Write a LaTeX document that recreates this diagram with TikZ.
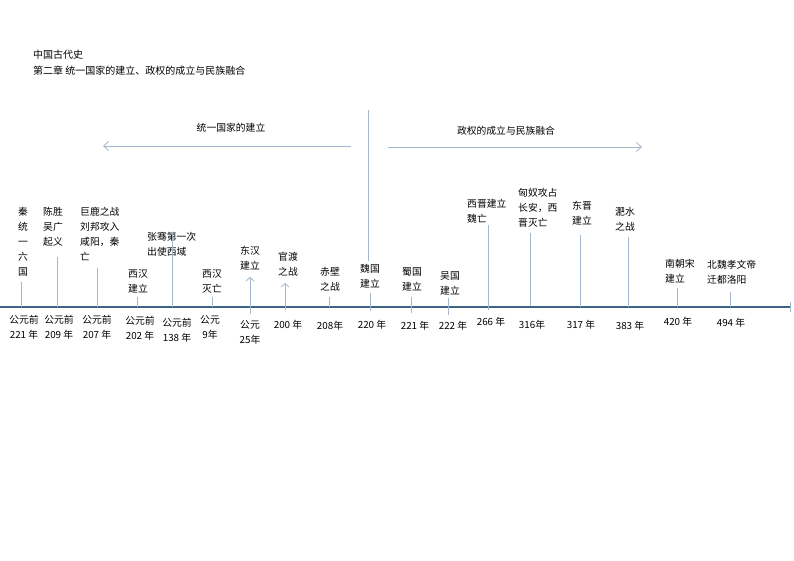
\documentclass[tikz,border=0pt]{standalone}
\usepackage{fontspec}
\setmainfont{Noto Sans CJK SC}
\usetikzlibrary{arrows.meta}
\definecolor{axisblue}{HTML}{3E6388}
\definecolor{thinblue}{HTML}{A3B8CC}
\begin{document}
\begin{tikzpicture}[x=1pt,y=-1pt,
  txt/.style={font=\fontsize{9.8}{15}\selectfont, inner sep=0pt, text=black},
  lab/.style={txt, align=left, anchor=north west},
  vlab/.style={txt, align=center, anchor=north},
  date/.style={txt, align=center, anchor=north},
  ticky/.style={draw=thinblue, line width=0.8pt},
  uparrow/.style={ticky, -{Straight Barb[length=3.5pt,width=8pt]}},
  sidearrow/.style={ticky, -{Straight Barb[length=5pt,width=9pt]}},
  axisline/.style={draw=axisblue, line width=2.4pt}]
\useasboundingbox (0,0) rectangle (794,561);
\fill[white] (0,0) rectangle (794,561);

% title
\node[txt, anchor=north west, align=left, font=\fontsize{10}{15.5}\selectfont] (title) at (33,50)
  {中国古代史\\第二章 统一国家的建立、政权的成立与民族融合};

% section arrows and divider
\coordinate (divT) at (368,110);
\coordinate (divB) at (368,261);
\draw[ticky] (divT) -- (divB);
\coordinate (laS) at (351,146);
\coordinate (laE) at (103,146);
\draw[sidearrow] (laS) -- (laE);
\coordinate (raS) at (388,147);
\coordinate (raE) at (642,147);
\draw[sidearrow] (raS) -- (raE);
\node[txt] (secA) at (231,128) {统一国家的建立};
\node[txt] (secB) at (506,131) {政权的成立与民族融合};

% axis
\coordinate (axL) at (0,307);
\coordinate (axR) at (790,307);
\draw[axisline] (axL) -- (axR);
\coordinate (endT) at (790,302);
\coordinate (endB) at (790,312);
\draw[ticky] (endT) -- (endB);

% 1
\node[vlab] (l1) at (23,207) {秦\\统\\一\\六\\国};
\coordinate (a1) at (21,282); \coordinate (b1) at (21,307);
\draw[ticky] (a1) -- (b1);
\node[date] (d1) at (24,315) {公元前\\221 年};
% 2
\node[lab] (l2) at (43,207) {陈胜\\吴广\\起义};
\coordinate (a2) at (57,257); \coordinate (b2) at (57,307);
\draw[ticky] (a2) -- (b2);
\node[date] (d2) at (59,315) {公元前\\209 年};
% 3
\node[lab] (l3) at (80,207) {巨鹿之战\\刘邦攻入\\咸阳，秦\\亡};
\coordinate (a3) at (97,268); \coordinate (b3) at (97,307);
\draw[ticky] (a3) -- (b3);
\node[date] (d3) at (97,315) {公元前\\207 年};
% 4
\node[lab] (l4) at (128,269) {西汉\\建立};
\coordinate (a4) at (137,297); \coordinate (b4) at (137,307);
\draw[ticky] (a4) -- (b4);
\node[date] (d4) at (140,316) {公元前\\202 年};
% 5
\node[lab] (l5) at (147,232) {张骞第一次\\出使西域};
\coordinate (a5) at (172,232); \coordinate (b5) at (172,307);
\draw[ticky] (a5) -- (b5);
\node[date] (d5) at (177,318) {公元前\\138 年};
% 6
\node[lab] (l6) at (202,269) {西汉\\灭亡};
\coordinate (a6) at (212,297); \coordinate (b6) at (212,307);
\draw[ticky] (a6) -- (b6);
\node[date] (d6) at (210,315) {公元\\9年};
% 7
\node[lab] (l7) at (240,246) {东汉\\建立};
\coordinate (a7) at (250,314); \coordinate (b7) at (250,277);
\draw[uparrow] (a7) -- (b7);
\node[date] (d7) at (250,320) {公元\\25年};
% 8
\node[lab] (l8) at (278,252) {官渡\\之战};
\coordinate (a8) at (285,310); \coordinate (b8) at (285,283);
\draw[uparrow] (a8) -- (b8);
\node[date] (d8) at (288,320) {200 年};
% 9
\node[lab] (l9) at (320,267) {赤壁\\之战};
\coordinate (a9) at (329,297); \coordinate (b9) at (329,307);
\draw[ticky] (a9) -- (b9);
\node[date] (d9) at (330,321) {208年};
% 10
\node[lab] (l10) at (360,264) {魏国\\建立};
\coordinate (a10) at (370,293); \coordinate (b10) at (370,311);
\draw[ticky] (a10) -- (b10);
\node[date] (d10) at (372,320) {220 年};
% 11
\node[lab] (l11) at (402,267) {蜀国\\建立};
\coordinate (a11) at (411,297); \coordinate (b11) at (411,313);
\draw[ticky] (a11) -- (b11);
\node[date] (d11) at (415,321) {221 年};
% 12
\node[lab] (l12) at (440,271) {吴国\\建立};
\coordinate (a12) at (448,298); \coordinate (b12) at (448,315);
\draw[ticky] (a12) -- (b12);
\node[date] (d12) at (453,321) {222 年};
% 13
\node[lab] (l13) at (467,199) {西晋建立\\魏亡};
\coordinate (a13) at (488,225); \coordinate (b13) at (488,310);
\draw[ticky] (a13) -- (b13);
\node[date] (d13) at (491,317) {266 年};
% 14
\node[lab] (l14) at (518,188) {匈奴攻占\\长安，西\\晋灭亡};
\coordinate (a14) at (530,233); \coordinate (b14) at (530,306);
\draw[ticky] (a14) -- (b14);
\node[date] (d14) at (532,320) {316年};
% 15
\node[lab] (l15) at (572,201) {东晋\\建立};
\coordinate (a15) at (580,235); \coordinate (b15) at (580,307);
\draw[ticky] (a15) -- (b15);
\node[date] (d15) at (581,320) {317 年};
% 16
\node[lab] (l16) at (615,207) {淝水\\之战};
\coordinate (a16) at (628,237); \coordinate (b16) at (628,307);
\draw[ticky] (a16) -- (b16);
\node[date] (d16) at (630,321) {383 年};
% 17
\node[lab] (l17) at (665,259) {南朝宋\\建立};
\coordinate (a17) at (677,288); \coordinate (b17) at (677,307);
\draw[ticky] (a17) -- (b17);
\node[date] (d17) at (678,317) {420 年};
% 18
\node[lab] (l18) at (707,260) {北魏孝文帝\\迁都洛阳};
\coordinate (a18) at (730,292); \coordinate (b18) at (730,307);
\draw[ticky] (a18) -- (b18);
\node[date] (d18) at (731,318) {494 年};
\end{tikzpicture}
\end{document}
